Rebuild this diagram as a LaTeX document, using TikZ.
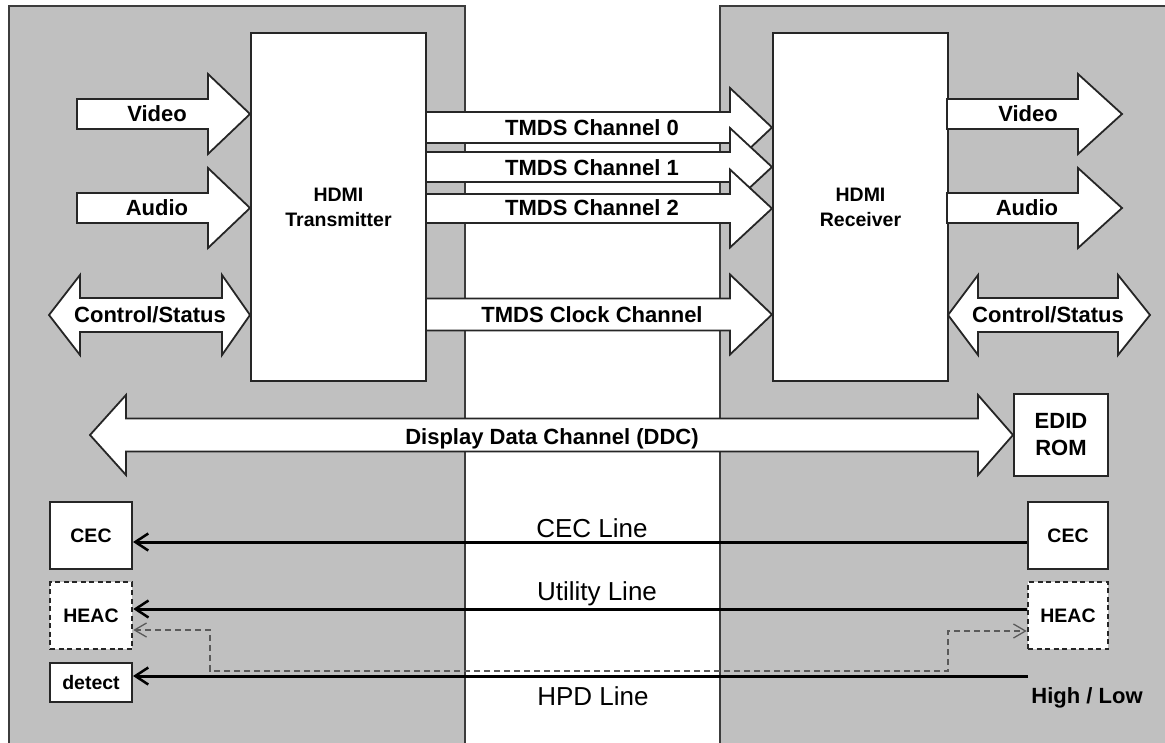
\documentclass[tikz,border=0pt]{standalone}
\usepackage{fontspec}
\setmainfont{Liberation Sans}
\usetikzlibrary{arrows.meta}
\definecolor{panelgray}{RGB}{192,192,192}
\definecolor{edgegray}{RGB}{60,60,60}
\definecolor{dashgray}{RGB}{90,90,90}
\newcommand{\fBold}{\fontsize{22}{27}\selectfont\bfseries}
\newcommand{\fBox}{\fontsize{19.5}{25}\selectfont\bfseries}
\newcommand{\fLine}{\fontsize{26}{30}\selectfont}
% right block arrow: tail, head base, tip, y centre, shaft half, head half
\newcommand{\RArr}[6]{\draw[barrow] (#1,#4-#5) -- (#2,#4-#5) -- (#2,#4-#6) -- (#3,#4) -- (#2,#4+#6) -- (#2,#4+#5) -- (#1,#4+#5) -- cycle;}
% double block arrow: left tip, left base, right base, right tip, y centre, shaft half, head half
\newcommand{\DArr}[7]{\draw[barrow] (#1,#5) -- (#2,#5-#7) -- (#2,#5-#6) -- (#3,#5-#6) -- (#3,#5-#7) -- (#4,#5) -- (#3,#5+#7) -- (#3,#5+#6) -- (#2,#5+#6) -- (#2,#5+#7) -- cycle;}
\tikzset{
  panel/.style={draw=edgegray, line width=2, fill=panelgray},
  blk/.style={draw=black!85, line width=2, fill=white, inner sep=0, align=center, font=\fBox},
  dblk/.style={blk, dash pattern=on 5pt off 3.5pt, line width=2.5},
  barrow/.style={draw=black!85, line width=1.8, fill=white, line join=miter},
  lbl/.style={inner sep=0, text height=15.75pt, text depth=0pt, font=\fBold},
  lnlbl/.style={inner sep=0, text height=18.6pt, text depth=0pt, font=\fLine},
  sig/.style={line width=3, draw=black},
  tip/.style={-{Straight Barb[length=13pt,width=17pt,line width=2.5pt]}},
  dsh/.style={draw=dashgray, line width=2.4, dash pattern=on 6pt off 4pt},
  dtip/.style={{Straight Barb[length=12pt,width=14pt,line width=1.3pt]}-{Straight Barb[length=12pt,width=14pt,line width=1.3pt]}}
}
\begin{document}
\begin{tikzpicture}[x=1pt,y=-1pt]
\useasboundingbox (0,0) rectangle (1165,742);
\clip (0,0) rectangle (1165,742);
\fill[white] (0,0) rectangle (1165,742);
% panels
\draw[panel] (9,6) rectangle (465,770);
\draw[panel] (720,6) rectangle (1190,770);
% transmitter / receiver
\node[blk, minimum width=175, minimum height=348] (tx) at (338.5,207) {HDMI\\Transmitter};
\node[blk, minimum width=175, minimum height=348] (rx) at (860.5,207) {HDMI\\Receiver};
% left side input arrows
\RArr{77}{208}{250}{114}{15}{40}
\RArr{77}{208}{250}{208}{15}{40}
\DArr{49}{80}{222}{250}{315}{17}{40}
% TMDS channels
\RArr{426}{730}{772}{127.5}{15.5}{39.5}
\RArr{426}{730}{772}{167}{15}{39}
\RArr{426}{730}{772}{208.5}{14.5}{39}
\RArr{426}{730}{772}{314.5}{16}{40}
% right side outputs
\RArr{947}{1078}{1122}{114}{15}{40}
\RArr{947}{1078}{1122}{208}{15}{40}
\DArr{948}{978}{1118}{1150}{315}{17}{40}
% DDC
\DArr{90}{126}{978}{1013}{435}{16.5}{40}
% small boxes
\node[blk, font=\fBold, minimum width=94, minimum height=82] (edid) at (1061,435) {EDID\\ROM};
\node[blk, minimum width=82, minimum height=67] (cecL) at (91,535.5) {CEC};
\node[dblk, minimum width=82, minimum height=67] (heacL) at (91,615.5) {HEAC};
\node[blk, minimum width=82, minimum height=39] (detL) at (91,682.5) {detect};
\node[blk, minimum width=80, minimum height=67] (cecR) at (1068,535.5) {CEC};
\node[dblk, minimum width=80, minimum height=67] (heacR) at (1068,615.5) {HEAC};
\coordinate (hpdR) at (1028,676);
% labels of block arrows
\node[lbl] (lvid) at (157,114) {Video};
\node[lbl] (laud) at (157,208) {Audio};
\node[lbl] (lctl) at (150,315) {Control/Status};
\node[lbl] (t0) at (592,128) {TMDS Channel 0};
\node[lbl] (t1) at (592,168) {TMDS Channel 1};
\node[lbl] (t2) at (592,207.5) {TMDS Channel 2};
\node[lbl] (tc) at (592,315) {TMDS Clock Channel};
\node[lbl] (rvid) at (1028,114) {Video};
\node[lbl] (raud) at (1027,208) {Audio};
\node[lbl] (rctl) at (1048,315) {Control/Status};
\node[lbl] (lddc) at (552,437) {Display Data Channel (DDC)};
% dashed HEAC path
\draw[dsh, dtip] ([yshift=-14.5pt]heacL.east) -| (210,671) -- (948,671) |- ([yshift=-15.5pt]heacR.west);
% signal lines
\draw[sig, tip, {Straight Barb[length=13pt,width=17pt,line width=2.5pt]}-] ([yshift=-6.5pt]cecL.east) -- ([yshift=-6.5pt]cecR.west);
\draw[sig, tip, {Straight Barb[length=13pt,width=17pt,line width=2.5pt]}-] ([yshift=6.5pt]heacL.east) -- ([yshift=6.5pt]heacR.west);
\draw[sig, tip] (hpdR) -- ([yshift=6.5pt]detL.east);
% line labels
\node[lnlbl] (lcec) at (592,528) {CEC Line};
\node[lnlbl] (lutil) at (597,591) {Utility Line};
\node[lnlbl] (lhpd) at (593,696) {HPD Line};
\node[lbl] (hilo) at (1087,696) {High / Low};
\end{tikzpicture}
\end{document}
